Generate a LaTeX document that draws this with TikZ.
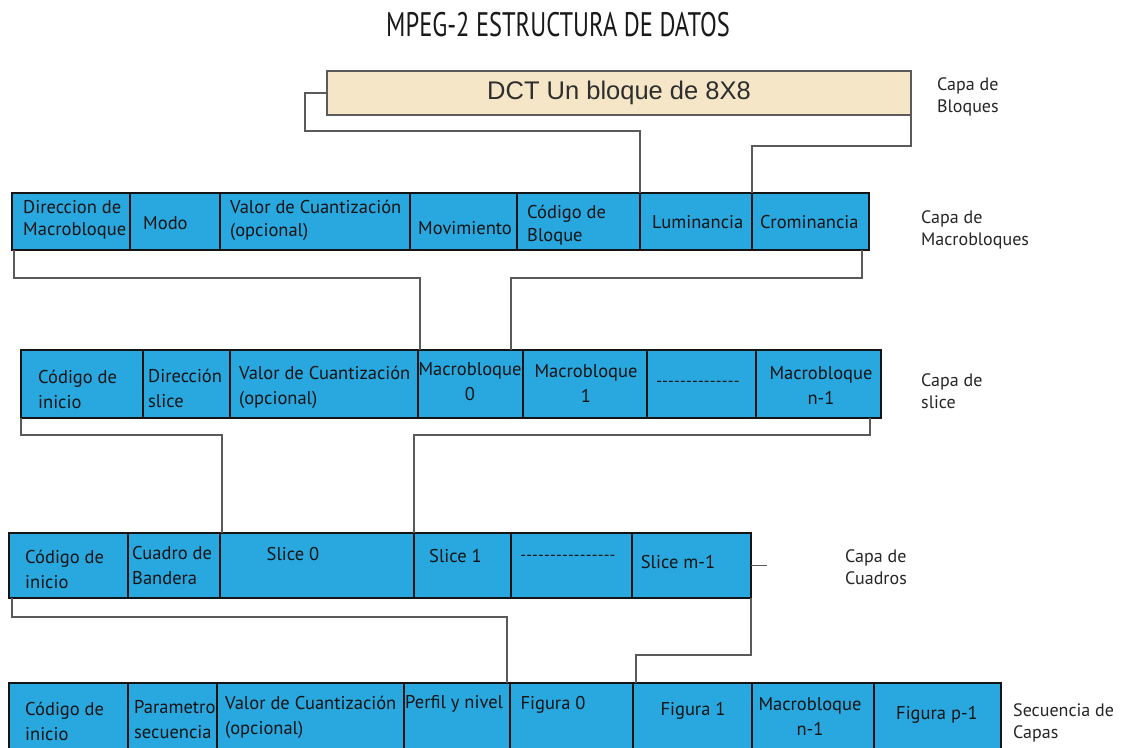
\documentclass[tikz,border=0pt]{standalone}
\usepackage{fontspec}
\setmainfont{PT Sans}
\newfontfamily\titlefont[FakeStretch=0.72]{PT Sans}
\newfontfamily\dctfont{Liberation Sans}
\usetikzlibrary{calc}

\definecolor{cellblue}{HTML}{29A8E0}
\definecolor{dctfill}{HTML}{F4E6C6}
\definecolor{ink}{HTML}{141414}
\definecolor{wire}{HTML}{5A5A5A}

\tikzset{
  cellbox/.style={draw=ink, line width=1.2pt, fill=cellblue, inner sep=0pt,
                  outer sep=0pt, anchor=north west},
  dctbox/.style={draw=wire, line width=1.2pt, fill=dctfill, inner sep=0pt,
                 outer sep=0pt, font=\dctfont\fontsize{25.5}{30}\selectfont,
                 text=black!82},
  conn/.style={draw=wire, line width=1.6pt},
  txt/.style={font=\fontsize{18.5}{25}\selectfont, text=ink, inner sep=0pt,
              align=left, anchor=north west,
              execute at begin node={\rule{0pt}{14pt}}},
  ctxt/.style={txt, align=center, anchor=north},
  tight/.style={font=\fontsize{18.5}{22.5}\selectfont},
  dashtxt/.style={ctxt, font=\fontsize{16}{20}\selectfont},
  layer/.style={font=\fontsize{18}{22.5}\selectfont, text=black!85,
                inner sep=0pt, align=left, anchor=north west,
                execute at begin node={\rule{0pt}{13.5pt}}},
  title/.style={font=\titlefont\fontsize{34}{40}\selectfont, text=black!90,
                inner sep=0pt},
}

% one field of a layer: name, x-left, x-right, y-top, y-bottom
\newcommand\mkcell[5]{%
  \node[cellbox, minimum width={(#3-#2)*1pt}, minimum height={(#5-#4)*1pt}]
    (#1) at (#2,#4) {};}
% a row of unbroken hyphens
\newcommand\hyphens[1]{\foreach\k in {1,...,#1}{-\kern0.2pt}}

\begin{document}
\begin{tikzpicture}[x=1pt,y=-1pt]
\clip (0,0) rectangle (1127,747);
\fill[white] (0,0) rectangle (1127,747);

% heading
\node[title] (title) at (558,25) {MPEG-2 ESTRUCTURA DE DATOS};

% block layer
\node[dctbox, minimum width=584pt, minimum height=44pt] (dct) at (619,93)
  {DCT Un bloque de 8X8};
\node[layer] (lbl1) at (937,77) {Capa de\\Bloques};

% macroblock layer
\mkcell{dir}{12}{130}{193}{250}
\mkcell{modo}{130}{220}{193}{250}
\mkcell{val1}{220}{410}{193}{250}
\mkcell{mov}{410}{517}{193}{250}
\mkcell{codb}{517}{640}{193}{250}
\mkcell{lum}{640}{752}{193}{250}
\mkcell{crom}{752}{869}{193}{250}
\node[txt,tight] (tdir) at (23,200) {Direccion de\\Macrobloque};
\node[txt] (tmodo) at (143,215) {Modo};
\node[txt,tight] (tval1) at (230,200) {Valor de Cuantización\\(opcional)};
\node[txt] (tmov) at (418,220) {Movimiento};
\node[txt,tight] (tcodb) at (527,205) {Código de\\Bloque};
\node[txt] (tlum) at (652,214) {Luminancia};
\node[txt] (tcrom) at (760,214) {Crominancia};
\node[layer] (lbl2) at (921,210) {Capa de\\Macrobloques};

% slice layer
\mkcell{cod2}{21}{143}{350}{418}
\mkcell{dsl}{143}{230}{350}{418}
\mkcell{val2}{230}{418}{350}{418}
\mkcell{mb0}{418}{523}{350}{418}
\mkcell{mb1}{523}{647}{350}{418}
\mkcell{dots2}{647}{756}{350}{418}
\mkcell{mbn}{756}{881}{350}{418}
\node[txt] (tcod2) at (38,370) {Código de\\inicio};
\node[txt] (tdsl) at (148,369) {Dirección\\slice};
\node[txt] (tval2) at (239,366) {Valor de Cuantización\\(opcional)};
\node[ctxt] (tmb0) at (470,362) {Macrobloque\\0};
\node[ctxt] (tmb1) at (586,364) {Macrobloque\\1};
\node[dashtxt] (tdots2) at (698,372) {\hyphens{14}};
\node[ctxt] (tmbn) at (821,366) {Macrobloque\\n-1};
\node[layer] (lbl3) at (921,373) {Capa de\\slice};

% picture layer
\mkcell{cod3}{9}{128}{533}{598}
\mkcell{band}{128}{220}{533}{598}
\mkcell{s0}{220}{414}{533}{598}
\mkcell{s1}{414}{511}{533}{598}
\mkcell{dots3}{511}{632}{533}{598}
\mkcell{sm1}{632}{751}{533}{598}
\node[txt] (tcod3) at (25,550) {Código de\\inicio};
\node[txt] (tband) at (132,546) {Cuadro de\\Bandera};
\node[ctxt] (ts0) at (293,546) {Slice 0};
\node[txt] (ts1) at (429,548) {Slice 1};
\node[dashtxt] (tdots3) at (568,546) {\hyphens{16}};
\node[ctxt] (tsm1) at (678,554) {Slice m-1};
\node[layer] (lbl4) at (845,549) {Capa de\\Cuadros};

% sequence layer
\mkcell{cod4}{9}{128}{683}{752}
\mkcell{par}{128}{217}{683}{752}
\mkcell{val4}{217}{404}{683}{752}
\mkcell{perf}{404}{510}{683}{752}
\mkcell{f0}{510}{633}{683}{752}
\mkcell{f1}{633}{752}{683}{752}
\mkcell{mbn4}{752}{874}{683}{752}
\mkcell{fp}{874}{1001}{683}{752}
\node[txt] (tcod4) at (25,702) {Código de\\inicio};
\node[txt] (tpar) at (134,700) {Parametro\\secuencia};
\node[txt] (tval4) at (225,696) {Valor de Cuantización\\(opcional)};
\node[txt] (tperf) at (405,694) {Perfil y nivel};
\node[ctxt] (tf0) at (553,695) {Figura 0};
\node[ctxt] (tf1) at (693,701) {Figura 1};
\node[ctxt] (tmbn4) at (810,697) {Macrobloque\\n-1};
\node[ctxt] (tfp) at (937,705) {Figura p-1};
\node[layer] (lbl5) at (1013,703) {Secuencia de\\Capas};

% links between layers
\draw[conn] (dct.west) -| ++(-22,38) -| (lum.north west);
\draw[conn] (dct.south east) -- ++(0,31) -| (crom.north west);

\draw[conn] ([xshift=2pt]dir.south west) -- ++(0,28) -| ([xshift=2pt]mb0.north west);
\draw[conn] ([xshift=-7pt]crom.south east) -- ++(0,28) -| ([xshift=-12pt]mb0.north east);

\draw[conn] (cod2.south west) -- ++(0,17) -| ([xshift=2pt]s0.north west);
\draw[conn] ([xshift=-11pt]mbn.south east) -- ++(0,17) -| (s1.north west);

\draw[conn] ([xshift=3pt]cod3.south west) -- ++(0,19) -| ([xshift=-3pt]perf.north east);
\draw[conn] (sm1.south east) -- ++(0,57) -| ([xshift=3pt]f1.north west);
\coordinate (stubend) at ([xshift=16pt]sm1.east);
\draw[conn] (sm1.east) -- (stubend);
\end{tikzpicture}
\end{document}
